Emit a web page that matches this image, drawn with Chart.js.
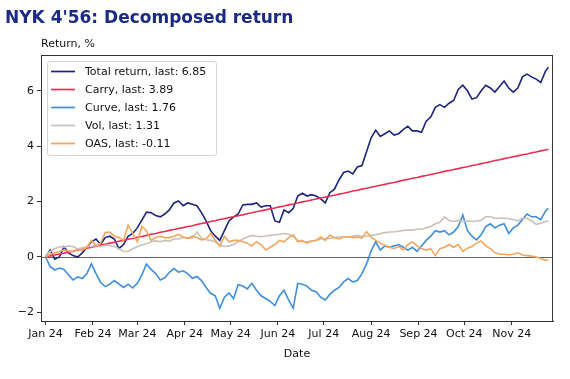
<!DOCTYPE html>
<html>
<head>
<meta charset="utf-8">
<script src="https://cdn.jsdelivr.net/npm/chart.js@4.4.1/dist/chart.umd.min.js"></script>
<style>
  html, body { margin: 0; padding: 0; background: #ffffff; }
  #wrap { width: 570px; height: 379px; position: relative; }
</style>
</head>
<body>
<div id="wrap"><canvas id="c" width="570" height="379"></canvas></div>
<script>
// Days since 1 Jan 2024
const days = [0,3,6,9,12,15,18,21,24,27,30,33,36,39,42,45,48,51,54,57,60,63,66,69,72,75,78,81,84,87,90,93,96,99,102,105,108,111,114,117,120,123,126,129,132,135,138,141,144,147,150,153,156,159,162,165,168,171,174,177,180,183,186,189,192,195,198,201,204,207,210,213,216,219,222,225,228,231,234,237,240,243,246,249,252,255,258,261,264,267,270,273,276,279,282,285,288,291,294,297,300,303,306,309,312,315,318,321,324,327,329];

const totalReturn = [0.0,0.25,-0.08,0.0,0.37,0.15,0.05,0.0,0.15,0.35,0.55,0.65,0.45,0.7,0.75,0.65,0.3,0.45,0.75,0.85,1.05,1.33,1.62,1.6,1.5,1.45,1.55,1.7,1.95,2.02,1.85,1.95,1.9,1.85,1.6,1.3,0.95,0.75,0.6,0.95,1.3,1.45,1.55,1.88,1.9,1.9,1.95,1.8,1.85,1.85,1.3,1.25,1.7,1.6,1.75,2.2,2.3,2.2,2.25,2.2,2.1,1.95,2.32,2.45,2.78,3.05,3.1,3.0,3.25,3.3,3.8,4.3,4.58,4.35,4.45,4.55,4.4,4.45,4.6,4.72,4.55,4.55,4.5,4.9,5.05,5.4,5.5,5.4,5.55,5.65,6.05,6.2,6.0,5.7,5.75,6.0,6.2,6.1,5.95,6.15,6.35,6.1,5.95,6.1,6.5,6.6,6.5,6.42,6.3,6.7,6.85];

const carry = [0.0,0.04,0.07,0.11,0.14,0.18,0.21,0.25,0.28,0.32,0.35,0.39,0.43,0.46,0.5,0.53,0.57,0.6,0.64,0.67,0.71,0.74,0.78,0.82,0.85,0.89,0.92,0.96,0.99,1.03,1.06,1.1,1.13,1.17,1.21,1.24,1.28,1.31,1.35,1.38,1.42,1.45,1.49,1.52,1.56,1.6,1.63,1.67,1.7,1.74,1.77,1.81,1.84,1.88,1.91,1.95,1.99,2.02,2.06,2.09,2.13,2.16,2.2,2.23,2.27,2.3,2.34,2.38,2.41,2.45,2.48,2.52,2.55,2.59,2.62,2.66,2.69,2.73,2.77,2.8,2.84,2.87,2.91,2.94,2.98,3.01,3.05,3.09,3.12,3.16,3.19,3.23,3.26,3.3,3.33,3.37,3.4,3.44,3.48,3.51,3.55,3.58,3.62,3.65,3.69,3.72,3.76,3.79,3.83,3.86,3.89];

const curve = [0.0,-0.35,-0.47,-0.4,-0.45,-0.65,-0.83,-0.72,-0.78,-0.6,-0.25,-0.6,-0.92,-1.07,-0.98,-0.85,-0.98,-1.1,-0.98,-1.12,-0.95,-0.65,-0.25,-0.45,-0.6,-0.83,-0.75,-0.55,-0.42,-0.55,-0.5,-0.6,-0.77,-0.7,-0.85,-1.1,-1.31,-1.4,-1.85,-1.45,-1.3,-1.5,-1.0,-1.05,-1.15,-0.95,-1.2,-1.4,-1.5,-1.6,-1.75,-1.4,-1.2,-1.55,-1.85,-0.95,-0.98,-1.05,-1.2,-1.25,-1.45,-1.55,-1.35,-1.2,-1.1,-0.9,-0.78,-0.9,-0.85,-0.6,-0.25,0.22,0.55,0.25,0.4,0.35,0.4,0.45,0.35,0.25,0.35,0.2,0.4,0.6,0.75,0.95,0.9,0.95,0.8,0.9,1.1,1.52,0.95,0.75,0.62,0.8,1.1,1.2,1.05,1.15,1.2,0.85,1.05,1.15,1.35,1.55,1.45,1.45,1.35,1.65,1.76];

const vol = [0.05,0.2,0.3,0.37,0.35,0.4,0.37,0.3,0.33,0.37,0.38,0.42,0.38,0.42,0.42,0.38,0.3,0.2,0.2,0.3,0.37,0.43,0.48,0.55,0.58,0.55,0.6,0.57,0.65,0.65,0.7,0.7,0.68,0.9,0.68,0.62,0.6,0.55,0.42,0.38,0.4,0.45,0.55,0.65,0.72,0.78,0.75,0.73,0.76,0.78,0.8,0.82,0.85,0.82,0.75,0.6,0.55,0.55,0.58,0.6,0.65,0.67,0.67,0.7,0.72,0.72,0.72,0.75,0.78,0.75,0.76,0.78,0.8,0.85,0.88,0.9,0.91,0.93,0.96,0.97,0.97,1.0,1.0,1.05,1.1,1.2,1.25,1.45,1.32,1.28,1.32,1.28,1.3,1.28,1.3,1.32,1.45,1.45,1.4,1.4,1.4,1.38,1.35,1.3,1.4,1.4,1.3,1.18,1.22,1.28,1.31];

const oas = [0.0,0.1,0.15,0.2,0.25,0.22,0.18,0.28,0.25,0.35,0.6,0.4,0.5,0.88,0.9,0.75,0.7,0.6,1.15,0.85,0.55,1.1,0.95,0.6,0.7,0.75,0.7,0.7,0.75,0.82,0.72,0.66,0.75,0.7,0.62,0.65,0.85,0.6,0.4,0.75,0.55,0.6,0.6,0.55,0.5,0.4,0.55,0.45,0.25,0.35,0.45,0.6,0.55,0.7,0.8,0.55,0.6,0.5,0.58,0.6,0.72,0.6,0.79,0.7,0.65,0.72,0.72,0.7,0.72,0.68,0.91,0.72,0.6,0.5,0.42,0.35,0.3,0.38,0.25,0.45,0.55,0.4,0.3,0.25,0.3,0.05,0.3,0.35,0.45,0.35,0.45,0.2,0.32,0.38,0.5,0.58,0.4,0.3,0.15,0.1,0.1,0.08,0.1,0.15,0.07,0.05,0.03,0.0,-0.05,-0.12,-0.11];

const seriesNames = ["Total return, last: 6.85", "Carry, last: 3.89", "Curve, last: 1.76", "Vol, last: 1.31", "OAS, last: -0.11"];
const monthTickDays = [0,31,60,91,121,152,182,213,244,274,305];
const monthTickLabels = ["Jan 24","Feb 24","Mar 24","Apr 24","May 24","Jun 24","Jul 24","Aug 24","Sep 24","Oct 24","Nov 24"];
const yTickValues = [-2,0,2,4,6];

const colors = ["#1b2482", "#ee2d52", "#3e8ede", "#cbc0b7", "#f6a65c"];
const seriesValues = [totalReturn, carry, curve, vol, oas];

const FONT = "'DejaVu Sans', sans-serif";

const datasets = seriesValues.map((vals, i) => ({
  label: seriesNames[i],
  data: vals.map((v, k) => ({x: days[k], y: v})),
  borderColor: colors[i],
  backgroundColor: colors[i],
  borderWidth: 1.6,
  pointRadius: 0,
  tension: 0,
  fill: false,
  order: 10 - i
}));

const decor = {
  id: 'decor',
  beforeDatasetsDraw(chart) {
    const {ctx, chartArea: a, scales: {y}} = chart;
    const y0 = Math.round(y.getPixelForValue(0)) + 0.5;
    ctx.save();
    ctx.strokeStyle = '#555555';
    ctx.lineWidth = 0.9;
    ctx.beginPath();
    ctx.moveTo(a.left, y0);
    ctx.lineTo(a.right, y0);
    ctx.stroke();
    ctx.restore();
  },
  afterDraw(chart) {
    const {ctx, chartArea: a} = chart;
    ctx.save();
    // frame
    ctx.strokeStyle = '#333333';
    ctx.lineWidth = 1;
    ctx.strokeRect(a.left + 0.5, a.top + 0.5, a.right - a.left - 1, a.bottom - a.top);
    // title
    ctx.fillStyle = '#1b2a86';
    ctx.font = "bold 17px " + FONT;
    ctx.textBaseline = 'alphabetic';
    ctx.textAlign = 'left';
    ctx.fillText("NYK 4'56: Decomposed return", 5, 23);
    // y label
    ctx.fillStyle = '#111111';
    ctx.font = "11px " + FONT;
    ctx.textBaseline = 'middle';
    ctx.fillText("Return, %", 41, 44);
    // x label
    ctx.textAlign = 'center';
    ctx.fillText("Date", (a.left + a.right) / 2, 354);
    // legend
    const lx = 47, ly = 61, lw = 169, lh = 94;
    ctx.fillStyle = 'rgba(255,255,255,0.85)';
    ctx.strokeStyle = '#d6d6d6';
    ctx.lineWidth = 1;
    ctx.beginPath();
    ctx.roundRect(lx + 0.5, ly + 0.5, lw, lh, 2.5);
    ctx.fill();
    ctx.stroke();
    ctx.textAlign = 'left';
    ctx.textBaseline = 'middle';
    ctx.font = "11px " + FONT;
    seriesNames.forEach((name, i) => {
      const ry = 71.5 + i * 18;
      ctx.strokeStyle = colors[i];
      ctx.lineWidth = 1.7;
      ctx.beginPath();
      ctx.moveTo(51, ry);
      ctx.lineTo(75, ry);
      ctx.stroke();
      ctx.fillStyle = '#111111';
      ctx.fillText(name, 85, ry + 0.5);
    });
    ctx.restore();
  }
};

new Chart(document.getElementById('c'), {
  type: 'line',
  data: { datasets },
  options: {
    responsive: false,
    animation: false,
    devicePixelRatio: 1,
    layout: { padding: { top: 55, right: 17, left: 0, bottom: 0 } },
    plugins: { legend: { display: false }, tooltip: { enabled: false }, title: { display: false } },
    scales: {
      x: {
        type: 'linear',
        min: -3,
        max: 332,
        afterBuildTicks(axis) { axis.ticks = monthTickDays.map(v => ({value: v})); },
        afterFit(scale) { scale.height = 58; },
        ticks: {
          autoSkip: false, maxRotation: 0, minRotation: 0,
          color: '#111111', font: { family: FONT, size: 11 }, padding: 3,
          callback(v) { const i = monthTickDays.indexOf(v); return i >= 0 ? monthTickLabels[i] : ''; }
        },
        grid: { drawOnChartArea: false, drawTicks: true, tickLength: 4, color: '#333333', lineWidth: 1 },
        border: { display: true, color: '#333333', width: 1 }
      },
      y: {
        type: 'linear',
        min: -2.31,
        max: 7.29,
        afterBuildTicks(axis) { axis.ticks = yTickValues.map(v => ({value: v})); },
        afterFit(scale) { scale.width = 41; },
        ticks: {
          color: '#111111', font: { family: FONT, size: 11 }, padding: 3,
          callback(v) { return v < 0 ? '\u2212' + Math.abs(v) : String(v); }
        },
        grid: { drawOnChartArea: false, drawTicks: true, tickLength: 4, color: '#333333', lineWidth: 1 },
        border: { display: true, color: '#333333', width: 1 }
      }
    }
  },
  plugins: [decor]
});
</script>
</body>
</html>
